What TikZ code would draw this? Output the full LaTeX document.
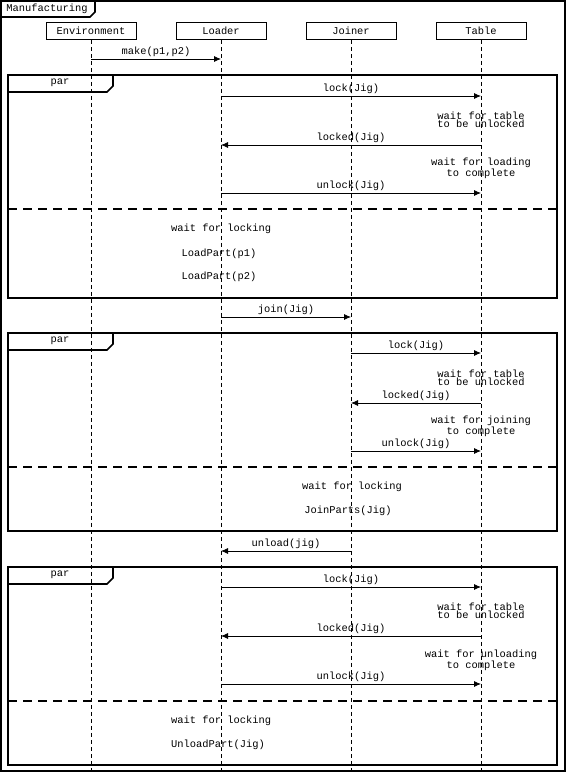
\documentclass[tikz,border=0pt]{standalone}
\usepackage{fontspec}
\setmonofont{Liberation Mono}
\usetikzlibrary{arrows.meta}
\newcommand{\mfont}{\ttfamily\fontsize{10.4}{8}\selectfont}
\tikzset{
  lbl/.style={font=\mfont, inner sep=0pt},
  note/.style={font=\mfont, inner sep=0pt, align=center},
  msg/.style={line width=0.8pt, -{Latex[length=7pt,width=6pt]}},
  frm/.style={line width=1.6pt},
  head/.style={draw, line width=0.8pt, minimum width=90pt, minimum height=17pt, inner sep=0pt, font=\mfont},
  life/.style={line width=0.8pt, dash pattern=on 4pt off 3pt},
  sepline/.style={line width=1.6pt, dash pattern=on 9pt off 6pt},
}
\begin{document}
\begin{tikzpicture}[x=1pt,y=-1pt]
\useasboundingbox (0,0) rectangle (568,773);
% outer frame
\draw[frm] (1,1) rectangle (565,771);
\draw[frm] (1,1) -- (95,1) -- (95,12) -- (90,17) -- (1,17);
\node[lbl] (title) at (47,9) {Manufacturing};
% heads
\node[head] (env) at (91,31) {Environment};
\node[head] (loader) at (221,31) {Loader};
\node[head] (joiner) at (351,31) {Joiner};
\node[head] (table) at (481,31) {Table};
\coordinate (envE) at (91,771);
\coordinate (loaderE) at (221,771);
\coordinate (joinerE) at (351,771);
\coordinate (tableE) at (481,771);
\draw[life] (env) -- (envE);
\draw[life] (loader) -- (loaderE);
\draw[life] (joiner) -- (joinerE);
\draw[life] (table) -- (tableE);
% make
\coordinate (m0a) at (91,59); \coordinate (m0b) at (221,59);
\draw[msg] (m0a) -- node[lbl, above=2pt] {make(p1,p2)} (m0b);
% ---------- frame 1
\draw[frm] (8,75) rectangle (557,298);
\draw[frm] (8,75) -- (113,75) -- (113,86) -- (107,92) -- (8,92);
\node[lbl] (par1) at (60,83) {par};
\coordinate (a1) at (221,96); \coordinate (b1) at (481,96);
\draw[msg] (a1) -- node[lbl, above=2pt] {lock(Jig)} (b1);
\node[note] (n11) at (481,120) {wait for table\\to be unlocked};
\coordinate (a2) at (481,145); \coordinate (b2) at (221,145);
\draw[msg] (a2) -- node[lbl, above=2pt] {locked(Jig)} (b2);
\node[note] (n12) at (481,168) {wait for loading\\to complete};
\coordinate (a3) at (221,193); \coordinate (b3) at (481,193);
\draw[msg] (a3) -- node[lbl, above=2pt] {unlock(Jig)} (b3);
\coordinate (s1a) at (8,209); \coordinate (s1b) at (557,209);
\draw[sepline] (s1a) -- (s1b);
\node[lbl, anchor=west] (w1) at (171,229) {wait for locking};
\node[lbl] (lp1) at (219,254) {LoadPart(p1)};
\node[lbl] (lp2) at (219,277) {LoadPart(p2)};
% join
\coordinate (ja) at (221,317); \coordinate (jb) at (351,317);
\draw[msg] (ja) -- node[lbl, above=2pt] {join(Jig)} (jb);
% ---------- frame 2
\draw[frm] (8,333) rectangle (557,531);
\draw[frm] (8,333) -- (113,333) -- (113,344) -- (107,350) -- (8,350);
\node[lbl] (par2) at (60,341) {par};
\coordinate (a4) at (351,353); \coordinate (b4) at (481,353);
\draw[msg] (a4) -- node[lbl, above=2pt] {lock(Jig)} (b4);
\node[note] (n21) at (481,378) {wait for table\\to be unlocked};
\coordinate (a5) at (481,403); \coordinate (b5) at (351,403);
\draw[msg] (a5) -- node[lbl, above=2pt] {locked(Jig)} (b5);
\node[note] (n22) at (481,426) {wait for joining\\to complete};
\coordinate (a6) at (351,451); \coordinate (b6) at (481,451);
\draw[msg] (a6) -- node[lbl, above=2pt] {unlock(Jig)} (b6);
\coordinate (s2a) at (8,467); \coordinate (s2b) at (557,467);
\draw[sepline] (s2a) -- (s2b);
\node[lbl] (w2) at (352,487) {wait for locking};
\node[lbl] (jp) at (348,511) {JoinParts(Jig)};
% unload
\coordinate (ua) at (351,551); \coordinate (ub) at (221,551);
\draw[msg] (ua) -- node[lbl, above=2pt] {unload(jig)} (ub);
% ---------- frame 3
\draw[frm] (8,567) rectangle (557,765);
\draw[frm] (8,567) -- (113,567) -- (113,578) -- (107,584) -- (8,584);
\node[lbl] (par3) at (60,575) {par};
\coordinate (a7) at (221,587); \coordinate (b7) at (481,587);
\draw[msg] (a7) -- node[lbl, above=2pt] {lock(Jig)} (b7);
\node[note] (n31) at (481,611) {wait for table\\to be unlocked};
\coordinate (a8) at (481,636); \coordinate (b8) at (221,636);
\draw[msg] (a8) -- node[lbl, above=2pt] {locked(Jig)} (b8);
\node[note] (n32) at (481,660) {wait for unloading\\to complete};
\coordinate (a9) at (221,684); \coordinate (b9) at (481,684);
\draw[msg] (a9) -- node[lbl, above=2pt] {unlock(Jig)} (b9);
\coordinate (s3a) at (8,701); \coordinate (s3b) at (557,701);
\draw[sepline] (s3a) -- (s3b);
\node[lbl, anchor=west] (w3) at (171,721) {wait for locking};
\node[lbl, anchor=west] (up) at (171,745) {UnloadPart(Jig)};
\end{tikzpicture}
\end{document}
